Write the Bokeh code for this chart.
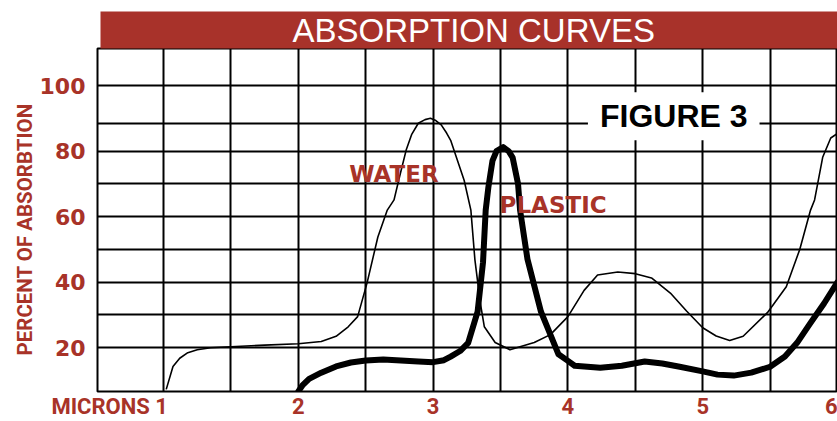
from bokeh.plotting import figure
from bokeh.models import FixedTicker, Range1d, Label, Title
from bokeh.embed import file_html
from bokeh.resources import INLINE

# ---- data ----
water_microns = [1.02, 1.07, 1.12, 1.18, 1.25, 1.35, 1.50, 1.75, 2.00, 2.17, 2.28, 2.37, 2.44,
                 2.51, 2.59, 2.66, 2.71, 2.75, 2.80, 2.84, 2.89, 2.94, 2.98, 3.02, 3.06, 3.10,
                 3.13, 3.23, 3.28, 3.31, 3.35, 3.38, 3.46, 3.57, 3.75, 3.87, 4.00, 4.12, 4.22,
                 4.37, 4.50, 4.62, 4.76, 4.88, 5.00, 5.10, 5.20, 5.30, 5.48, 5.62, 5.72, 5.80,
                 5.83, 5.89, 5.95, 6.00]
water_pct = [7.3, 14.3, 16.8, 18.5, 19.4, 20.0, 20.3, 20.8, 21.2, 21.9, 23.5, 26.4, 29.5,
             39.8, 53.8, 62.0, 65.1, 72.0, 80.3, 85.0, 88.5, 89.6, 90.0, 89.3, 88.0, 85.5,
             83.3, 71.1, 62.0, 46.8, 33.7, 26.4, 21.6, 19.4, 21.6, 24.0, 29.5, 37.5, 42.2,
             43.1, 42.6, 41.3, 36.7, 31.2, 26.1, 23.6, 22.2, 23.5, 30.7, 38.6, 50.0, 62.0,
             65.1, 78.1, 84.0, 85.4]

plastic_microns = [2.00, 2.03, 2.08, 2.17, 2.28, 2.39, 2.50, 2.63, 2.76, 2.89, 3.00, 3.08,
                   3.13, 3.20, 3.26, 3.33, 3.37, 3.39, 3.41, 3.44, 3.47, 3.52, 3.56, 3.59,
                   3.63, 3.645, 3.70, 3.80, 3.87, 3.93, 4.00, 4.05, 4.24, 4.40, 4.57, 4.70,
                   4.82, 5.00, 5.11, 5.23, 5.36, 5.50, 5.61, 5.70, 5.80, 5.90, 6.00]
plastic_pct = [6.7, 8.5, 10.5, 12.4, 14.3, 15.5, 16.1, 16.4, 16.1, 15.8, 15.6, 16.2,
               17.3, 19.0, 21.5, 31.0, 46.0, 62.0, 69.0, 77.0, 80.0, 81.2, 80.0, 78.0,
               70.0, 62.0, 47.0, 31.0, 24.0, 18.0, 16.0, 14.5, 13.9, 14.5, 15.8, 15.2,
               14.3, 12.8, 11.8, 11.5, 12.4, 14.2, 17.3, 21.5, 27.6, 33.5, 40.0]

# x tick positions and labels ("MICRONS 1" is centred left of the 1-micron line)
x_ticks = [0.60, 2, 3, 4, 5, 6]
x_tick_labels = {0.60: "MICRONS 1", 2: "2", 3: "3", 4: "4", 5: "5", 6: "6"}
y_ticks = [20, 40, 60, 80, 100]
x_grid = [1.0, 1.5, 2.0, 2.5, 3.0, 3.5, 4.0, 4.5, 5.0, 5.5]
y_grid = [20, 30, 40, 50, 60, 70, 80, 88.5, 100]

title_text = "ABSORPTION CURVES"
y_label = "PERCENT OF ABSORBTION"
figure_label = "FIGURE 3"
water_label = ("WATER", 2.709, 73.1)
plastic_label = ("PLASTIC", 3.890, 63.4)
figure_label_pos = (4.785, 90.6)

RED = "#A8322A"
TXT_RED = "#A83328"

p = figure(width=837, height=421, output_backend="svg", toolbar_location=None,
           x_range=Range1d(0.51, 6.0), y_range=Range1d(6.65, 111.3),
           min_border_left=97, min_border_right=0, min_border_top=48, min_border_bottom=29,
           title=title_text)

p.background_fill_color = "white"
p.border_fill_color = "white"
p.outline_line_color = "black"
p.outline_line_width = 2

# title bar
p.title.align = "left"
p.title.offset = 3
p.title.text_color = "white"
p.title.text_font = "Liberation Sans"
p.title.text_font_size = "33px"
p.title.text_font_style = "normal"
p.title.background_fill_color = RED
p.title.standoff = 0
p.title.padding = dict(left=192, right=190, top=0, bottom=0)

# grids
p.xgrid.ticker = FixedTicker(ticks=x_grid)
p.ygrid.ticker = FixedTicker(ticks=y_grid)
for g in (p.xgrid, p.ygrid):
    g.grid_line_color = "black"
    g.grid_line_width = 2
    g.grid_line_alpha = 1.0

# axes
for ax in (p.xaxis, p.yaxis):
    ax.axis_line_color = None
    ax.major_tick_line_color = None
    ax.minor_tick_line_color = None
    ax.major_tick_out = 0
    ax.major_tick_in = 0
    ax.minor_tick_out = 0
    ax.minor_tick_in = 0
    ax.major_label_text_font_style = "bold"
    ax.major_label_text_color = TXT_RED

p.xaxis.ticker = FixedTicker(ticks=x_ticks)
p.xaxis.major_label_overrides = x_tick_labels
p.xaxis.major_label_standoff = 2
p.xaxis.major_label_text_font = "Roboto"
p.xaxis.major_label_text_font_size = "22px"

p.yaxis.ticker = FixedTicker(ticks=y_ticks)
p.yaxis.major_label_standoff = 12
p.yaxis.major_label_text_font = "DejaVu Sans"
p.yaxis.major_label_text_font_size = "22px"

# vertical axis title (a side title so it can sit slightly below centre, as in the original)
ylab = Title(text=y_label, align="left", offset=36, standoff=0,
             text_font="Roboto", text_font_style="bold", text_font_size="20.5px",
             text_color=TXT_RED)
p.add_layout(ylab, "left")

# curves
p.line(water_microns, water_pct, line_color="black", line_width=1.6, line_join="round")
p.line(plastic_microns, plastic_pct, line_color="black", line_width=6, line_join="round",
       line_cap="round")

# labels
p.add_layout(Label(x=water_label[1], y=water_label[2], text=water_label[0],
                   text_align="center", text_baseline="middle",
                   text_font="DejaVu Sans", text_font_style="bold", text_font_size="23px",
                   text_color=TXT_RED))
p.add_layout(Label(x=plastic_label[1], y=plastic_label[2], text=plastic_label[0],
                   text_align="center", text_baseline="middle",
                   text_font="DejaVu Sans", text_font_style="bold", text_font_size="23px",
                   text_color=TXT_RED))
p.add_layout(Label(x=figure_label_pos[0], y=figure_label_pos[1], text=figure_label,
                   text_align="center", text_baseline="middle",
                   text_font="Liberation Sans", text_font_style="bold", text_font_size="32px",
                   text_color="black", background_fill_color="white",
                   padding=dict(left=12, right=12, top=6, bottom=6)))

open("out.html", "w").write(file_html(p, INLINE))
